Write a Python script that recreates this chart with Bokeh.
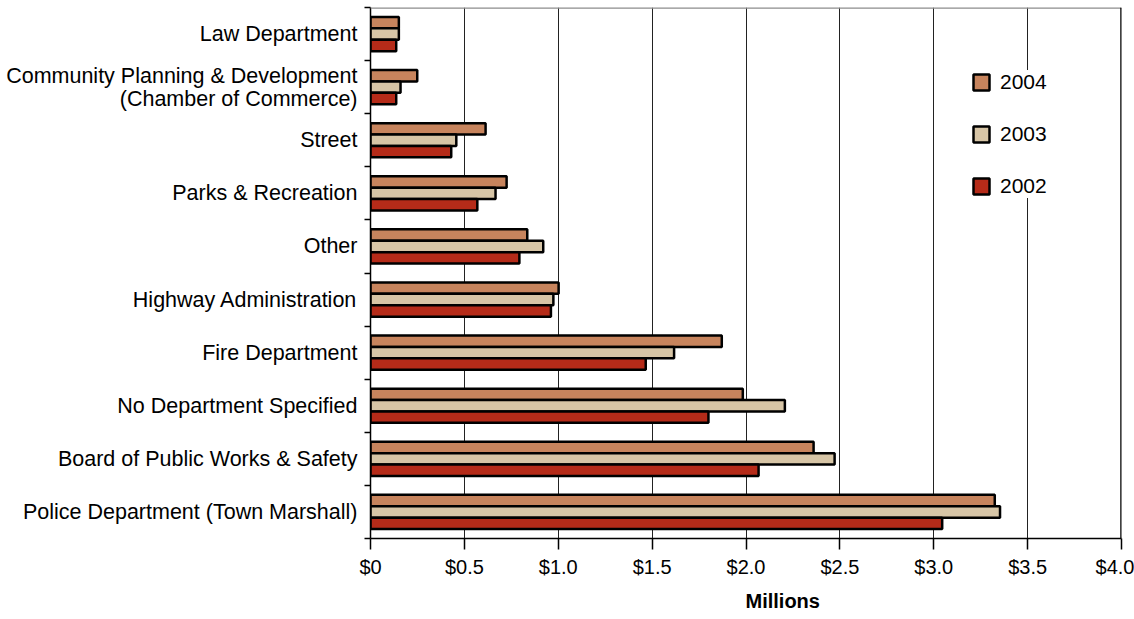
import numpy as np
from bokeh.plotting import figure
from bokeh.models import ColumnDataSource, FixedTicker, Span, Legend, LegendItem, Title, Range1d
from bokeh.transform import dodge
from bokeh.embed import file_html
from bokeh.resources import INLINE

# ---- data (top to bottom as shown) ----
categories = [
    "Law Department",
    "Community Planning & Development\n(Chamber of Commerce)",
    "Street",
    "Parks & Recreation",
    "Other",
    "Highway Administration",
    "Fire Department",
    "No Department Specified",
    "Board of Public Works & Safety",
    "Police Department (Town Marshall)",
]
v2004 = [0.151, 0.249, 0.613, 0.725, 0.835, 1.002, 1.871, 1.983, 2.360, 3.325]
v2003 = [0.151, 0.160, 0.457, 0.666, 0.920, 0.974, 1.617, 2.207, 2.472, 3.353]
v2002 = [0.137, 0.137, 0.430, 0.569, 0.793, 0.961, 1.466, 1.800, 2.067, 3.045]
years = ["2004", "2003", "2002"]
colors = ["#C7845D", "#D7C5A6", "#B52B19"]
tick_values = [0, 0.5, 1.0, 1.5, 2.0, 2.5, 3.0, 3.5, 4.0]
tick_labels = ["$0", "$0.5", "$1.0", "$1.5", "$2.0", "$2.5", "$3.0", "$3.5", "$4.0"]
axis_title = "Millions"

n = len(categories)
pos = (n - 1 - np.arange(n)) + 0.5  # category centres, first category at top

src = ColumnDataSource(dict(y=pos, v2004=v2004, v2003=v2003, v2002=v2002))

FONT = "Liberation Sans"

p = figure(width=1134, height=619, output_backend="svg", toolbar_location=None,
           x_range=Range1d(0, 4.0), y_range=Range1d(0, n),
           min_border_left=370, min_border_right=13, min_border_top=7, min_border_bottom=80)
p.outline_line_color = None
p.background_fill_color = "white"
p.border_fill_color = "white"

bh = 0.215
renderers = []
for key, off, col in zip(["v2004", "v2003", "v2002"], [bh, 0.0, -bh], colors):
    r = p.hbar(y=dodge("y", off, range=p.y_range), right=key, left=0, height=bh,
               source=src, fill_color=col, line_color="black", line_width=2.5)
    renderers.append(r)

# grid
p.ygrid.visible = False
p.xgrid.ticker = FixedTicker(ticks=tick_values)
p.xgrid.grid_line_color = "#222222"
p.xgrid.grid_line_width = 1

# x axis
xa = p.xaxis[0]
xa.ticker = FixedTicker(ticks=tick_values)
xa.major_label_overrides = {t: l for t, l in zip(tick_values, tick_labels)}
xa.axis_line_color = "black"
xa.axis_line_width = 1.5
xa.major_tick_line_color = "black"
xa.major_tick_line_width = 1.5
xa.major_tick_out = 11
xa.major_tick_in = 0
xa.minor_tick_line_color = None
xa.major_label_text_font = FONT
xa.major_label_text_font_size = "20px"
xa.major_label_text_color = "black"
xa.major_label_standoff = 6

# y axis: multi-line category names get one right-aligned label per line
line_gap = 0.215
label_ticks, label_texts = [], []
for c, lab in zip(pos, categories):
    lines = lab.split("\n")
    k = len(lines)
    for j, ln in enumerate(lines):
        yy = float(c + ((k - 1) / 2 - j) * 2 * line_gap)
        label_ticks.append(yy)
        label_texts.append(ln)

ya = p.yaxis[0]
ya.ticker = FixedTicker(ticks=label_ticks, minor_ticks=list(np.arange(n + 1)))
ya.major_label_overrides = {t: l for t, l in zip(label_ticks, label_texts)}
ya.axis_line_color = "black"
ya.axis_line_width = 1.5
ya.major_tick_out = 0
ya.major_tick_in = 0
ya.minor_tick_out = 6
ya.minor_tick_in = 0
ya.minor_tick_line_color = "black"
ya.minor_tick_line_width = 1.5
ya.major_label_text_font = FONT
ya.major_label_text_font_size = "21.5px"
ya.major_label_text_color = "black"
ya.major_label_standoff = 7

# frame edges
p.add_layout(Span(location=n, dimension="width", line_color="#8c8c8c", line_width=2.5))
p.add_layout(Span(location=4.0, dimension="height", line_color="black", line_width=2.5))

# legend
items = [LegendItem(label=y, renderers=[r]) for y, r in zip(years, renderers)]
legend = Legend(items=items, location=(601, 340), orientation="vertical",
                glyph_width=20, glyph_height=20, label_standoff=9, spacing=28,
                padding=15, label_text_font=FONT, label_text_font_size="21px",
                label_text_color="black", background_fill_color="white",
                background_fill_alpha=1.0, border_line_color=None, margin=0)
p.add_layout(legend)

# axis title (bold, below)
p.add_layout(Title(text=axis_title, align="left", offset=375, text_font=FONT,
                   text_font_size="20px", text_font_style="bold", text_color="black",
                   standoff=15), "below")

open("out.html", "w").write(file_html(p, INLINE))
